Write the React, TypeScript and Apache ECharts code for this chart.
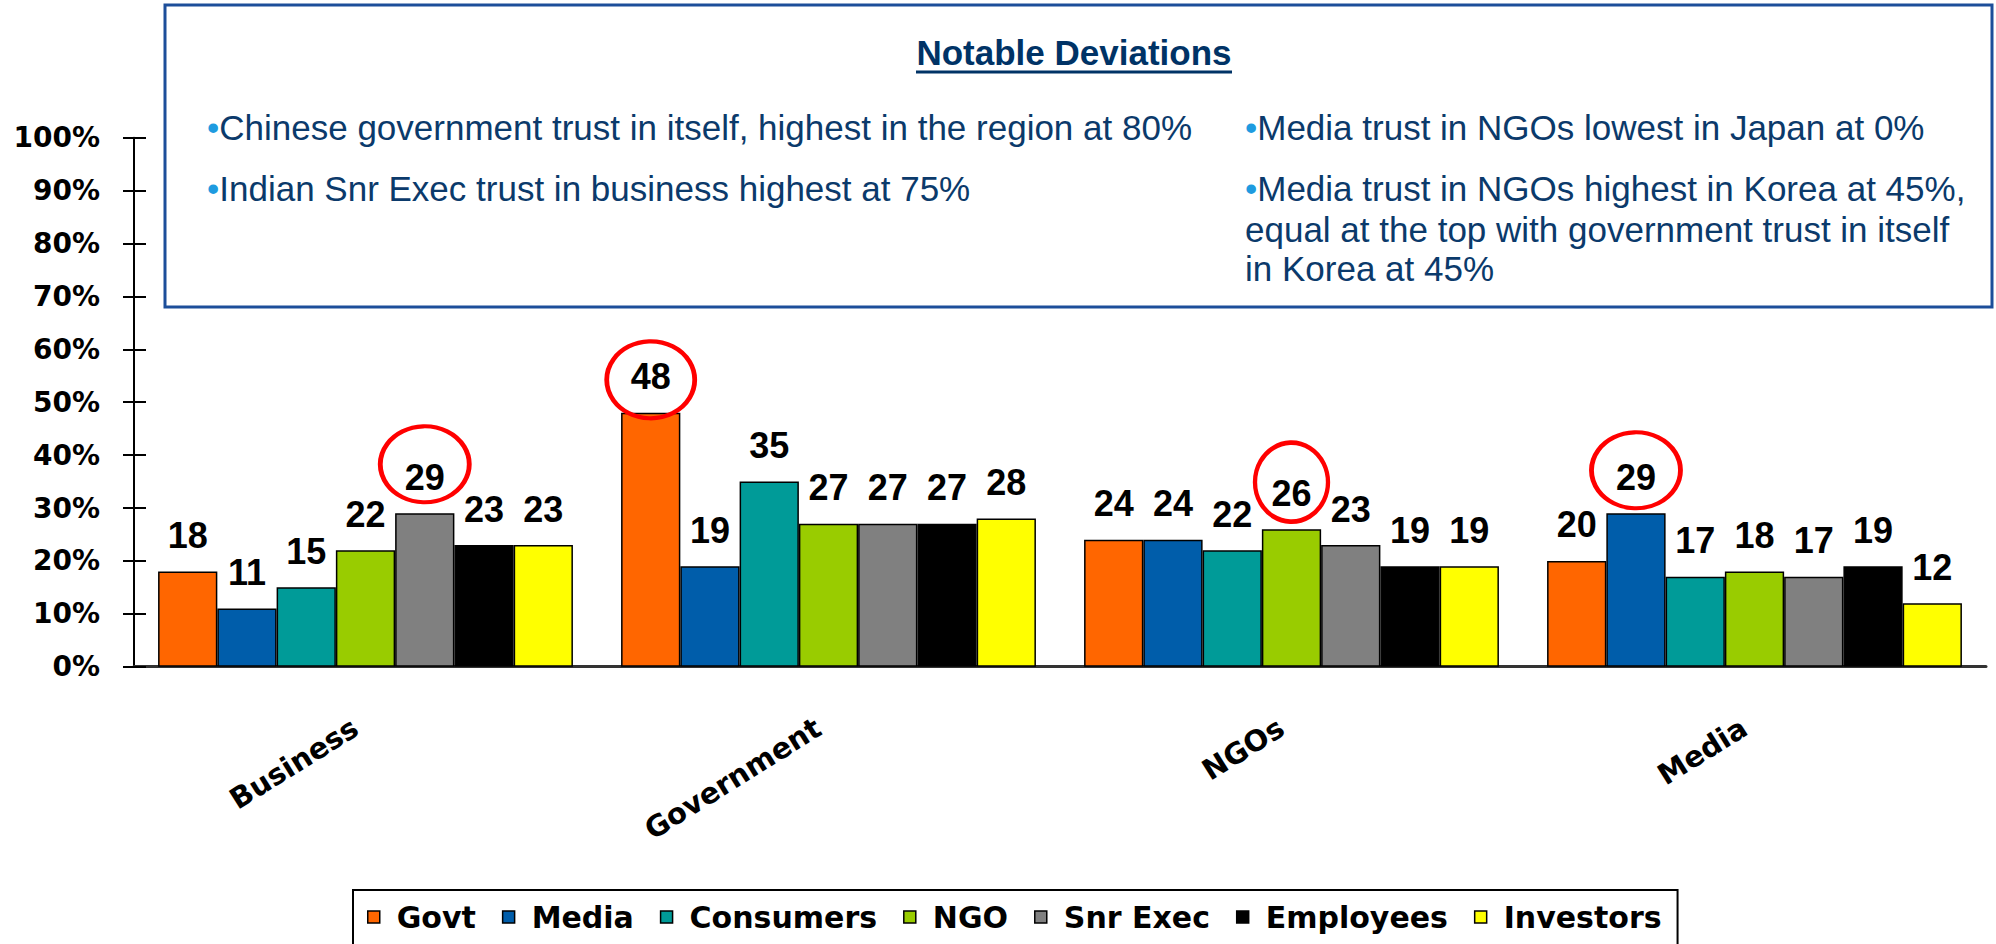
import React, { useEffect, useRef } from "react";
import * as echarts from "echarts";

const categories = ["Business", "Government", "NGOs", "Media"];
const seriesNames = ["Govt", "Media", "Consumers", "NGO", "Snr Exec", "Employees", "Investors"];
const govt = [18, 48, 24, 20];
const media = [11, 19, 24, 29];
const consumers = [15, 35, 22, 17];
const ngo = [22, 27, 26, 18];
const snrExec = [29, 27, 23, 17];
const employees = [23, 27, 19, 19];
const investors = [23, 28, 19, 12];
const seriesValues = [govt, media, consumers, ngo, snrExec, employees, investors];
const seriesColors = ["#FF6600", "#005DAA", "#009B98", "#99CC00", "#808080", "#000000", "#FFFF00"];

// highlighted (circled) values: [seriesIndex, categoryIndex]
const highlights = [
  [4, 0],
  [0, 1],
  [3, 2],
  [1, 3],
];
const highlightSizes = [[89, 76], [88, 77], [73, 79], [89, 76]];
const highlightLift = [49, 33, 47, 43];

const notesLeft = [
  "Chinese government trust in itself, highest in the region at 80%",
  "Indian Snr Exec trust in business highest at 75%",
];
const notesRight1 = "Media trust in NGOs lowest in Japan at 0%";
const notesRight2 = [
  "Media trust in NGOs highest in Korea at 45%,",
  "equal at the top with government trust in itself",
  "in Korea at 45%",
];

const SANS = "'Liberation Sans', Arial, sans-serif";
const WIDE = "'DejaVu Sans', sans-serif";
const NAVY = "#0B3A6B";
const BULLET = "#1E9BE0";

export default function App() {
  const ref = useRef<HTMLDivElement>(null);
  useEffect(() => {
    document.body.style.margin = "0";
    const chart = echarts.init(ref.current!, null, { renderer: "svg" });

    const series = seriesNames.map((name, si) => {
      const marks = highlights
        .map((h, k) => ({ h, k }))
        .filter(({ h }) => h[0] === si)
        .map(({ h, k }) => ({
          coord: [categories[h[1]], seriesValues[si][h[1]]],
          symbol: "circle",
          symbolSize: highlightSizes[k],
          symbolOffset: [0, -highlightLift[k]],
          itemStyle: { color: "rgba(0,0,0,0)", borderColor: "#FF0000", borderWidth: 4.5 },
          label: { show: false },
        }));
      return {
        name,
        type: "bar",
        barGap: "0%",
        barCategoryGap: "10.4%",
        data: seriesValues[si],
        itemStyle: { color: seriesColors[si], borderColor: "#000", borderWidth: 1.5 },
        label: {
          show: true,
          position: "top",
          distance: 18,
          fontSize: 36,
          fontWeight: "bold",
          fontFamily: SANS,
          color: "#000",
        },
        markPoint: marks.length
          ? { silent: true, z: 10, data: marks, label: { show: false } }
          : undefined,
      };
    });

    const bulletText = (x: number, y: number, txt: string, withBullet: boolean) => ({
      type: "text",
      x,
      y,
      z: 101,
      style: {
        text: withBullet ? `{b|•}{t|${txt}}` : `{t|${txt}}`,
        verticalAlign: "middle",
        align: "left",
        rich: {
          b: { fill: BULLET, fontSize: 35, fontFamily: SANS },
          t: { fill: NAVY, fontSize: 35, fontFamily: SANS },
        },
      },
    });

    chart.setOption({
      animation: false,
      grid: { left: 134, right: 10, top: 137.7, bottom: 277.3 },
      xAxis: {
        type: "category",
        data: categories,
        axisLine: { lineStyle: { color: "#333", width: 3 } },
        axisTick: { inside: true, length: 10, lineStyle: { color: "#000", width: 2 } },
        axisLabel: {
          rotate: 32,
          margin: 52,
          padding: [0, 12, 0, 0],
          fontSize: 29,
          fontWeight: "bold",
          fontFamily: WIDE,
          color: "#000",
        },
      },
      yAxis: [
        {
          type: "value",
          min: 0,
          max: 100,
          interval: 10,
          splitLine: { show: false },
          axisLine: { show: true, lineStyle: { color: "#000", width: 2 } },
          axisTick: { show: true, length: 11, lineStyle: { color: "#000", width: 2 } },
          axisLabel: {
            formatter: "{value}%",
            margin: 34,
            fontSize: 28,
            fontWeight: "bold",
            fontFamily: WIDE,
            color: "#000",
          },
        },
        {
          type: "value",
          position: "left",
          min: 0,
          max: 100,
          interval: 10,
          splitLine: { show: false },
          axisLine: { show: false },
          axisTick: { show: true, inside: true, length: 12, lineStyle: { color: "#000", width: 2 } },
          axisLabel: { show: false },
        },
      ],
      legend: {
        data: seriesNames,
        left: 353,
        top: 890,
        orient: "horizontal",
        icon: "rect",
        itemWidth: 12,
        itemHeight: 12,
        itemGap: 26,
        padding: [12, 16, 40, 14],
        borderColor: "#000",
        borderWidth: 2,
        itemStyle: { borderColor: "#000", borderWidth: 1.5 },
        textStyle: {
          fontSize: 30,
          fontWeight: "bold",
          fontFamily: WIDE,
          color: "#000",
          padding: [0, 0, 0, 12],
        },
      },
      graphic: [
        {
          type: "rect",
          z: 100,
          shape: { x: 165, y: 5, width: 1827, height: 302 },
          style: { fill: "#fff", stroke: "#1C4E9A", lineWidth: 3 },
        },
        {
          type: "text",
          z: 101,
          x: 1074,
          y: 52,
          style: {
            text: "Notable Deviations",
            align: "center",
            verticalAlign: "middle",
            fill: "#003366",
            fontSize: 35,
            fontWeight: "bold",
            fontFamily: SANS,
          },
        },
        {
          type: "line",
          z: 101,
          shape: { x1: 916, y1: 72, x2: 1232, y2: 72 },
          style: { stroke: "#003366", lineWidth: 3 },
        },
        bulletText(207, 127, notesLeft[0], true),
        bulletText(207, 188, notesLeft[1], true),
        bulletText(1245, 127, notesRight1, true),
        bulletText(1245, 188, notesRight2[0], true),
        bulletText(1245, 229, notesRight2[1], false),
        bulletText(1245, 268, notesRight2[2], false),
      ],
      series,
    });
    return () => chart.dispose();
  }, []);
  return <div ref={ref} style={{ width: 1996, height: 944 }} />;
}
